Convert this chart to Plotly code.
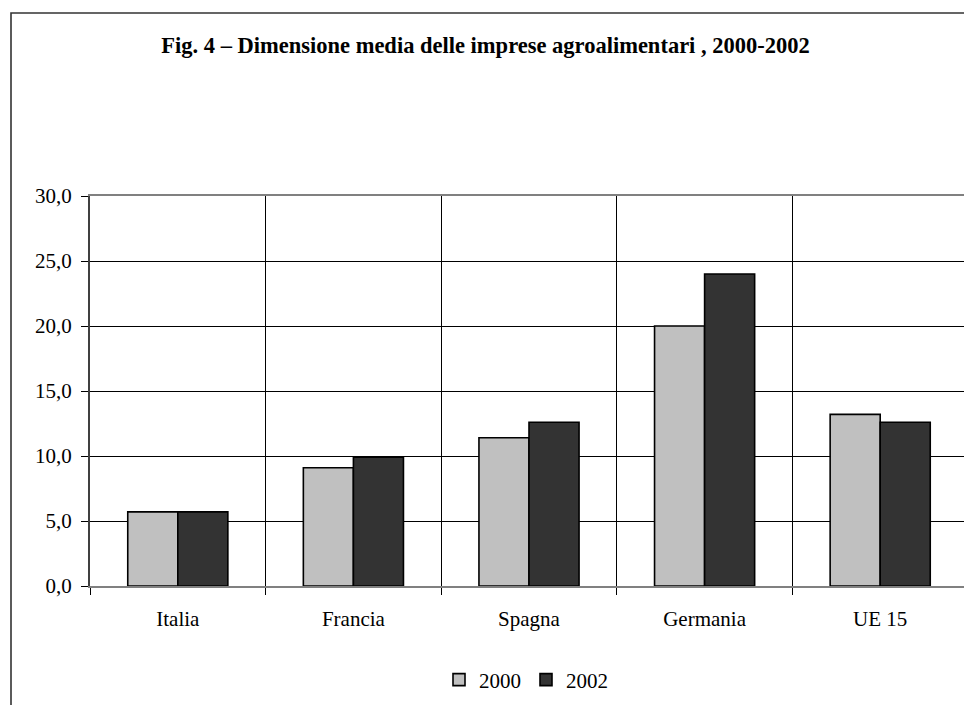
import plotly.graph_objects as go

categories = ["Italia", "Francia", "Spagna", "Germania", "UE 15"]
values_2000 = [5.7, 9.1, 11.4, 20.0, 13.2]
values_2002 = [5.7, 9.9, 12.6, 24.0, 12.6]
series_names = ["2000", "2002"]
title_text = "Fig. 4 – Dimensione media delle imprese agroalimentari , 2000-2002"

# the page body adds an 8px margin, so the figure is drawn 8px smaller
OFF = 8
W, H = 972 - OFF, 705 - OFF
# plot area in page pixels: x 90..968, y 196..586
L, T = 90 - OFF, 196 - OFF
R = W - (968 - OFF)
B = H - (586 - OFF)
pw, ph = W - L - R, H - T - B

def px_x(x):  # page pixel -> paper x
    return (x - OFF - L) / pw

def px_y(y):  # page pixel -> paper y
    return (H - B - (y - OFF)) / ph

serif = "Liberation Serif, Times New Roman, serif"

fig = go.Figure()
fig.add_trace(go.Bar(x=categories, y=values_2000, name=series_names[0],
                     marker=dict(color="#C0C0C0", line=dict(color="#000000", width=1.6))))
fig.add_trace(go.Bar(x=categories, y=values_2002, name=series_names[1],
                     marker=dict(color="#333333", line=dict(color="#000000", width=1.6))))

fig.update_layout(
    width=W, height=H,
    margin=dict(l=L, r=R, t=T, b=B, pad=0, autoexpand=False),
    paper_bgcolor="white", plot_bgcolor="white",
    separators=",.",
    barmode="group", bargap=0.43, bargroupgap=0,
    font=dict(family=serif, size=21, color="#000000"),
    title=dict(text="<b>" + title_text + "</b>", x=(485.5 - OFF) / W, xanchor="center",
               y=1 - (45.5 - OFF) / H, yanchor="middle", yref="container",
               font=dict(family=serif, size=22.5, color="#000000")),
    legend=dict(orientation="h", x=px_x(526), xanchor="center", y=px_y(680), yanchor="middle",
                font=dict(family=serif, size=21), itemwidth=30, tracegroupgap=0,
                bgcolor="rgba(0,0,0,0)"),
    showlegend=True,
    xaxis=dict(type="category", tickson="boundaries", ticks="outside", ticklen=7,
               tickcolor="#000000", tickwidth=1, showgrid=True, gridcolor="#000000",
               gridwidth=1, showline=True, linecolor="#808080", linewidth=2, mirror=True,
               ticklabelstandoff=13, tickfont=dict(family=serif, size=21), automargin=False),
    yaxis=dict(range=[0, 30], dtick=5, tick0=0, tickformat=".1f", ticks="outside",
               ticklen=7, tickcolor="#000000", tickwidth=1, showgrid=True,
               gridcolor="#000000", gridwidth=1, zeroline=False, showline=True,
               linecolor="#404040", linewidth=2, mirror=True,
               ticklabelstandoff=5, tickfont=dict(family=serif, size=21), automargin=False),
)

# outer chart-area border (extends beyond the right/bottom of the picture)
fig.add_shape(type="rect", xref="paper", yref="paper",
              x0=px_x(11), x1=px_x(1000), y0=px_y(730), y1=px_y(13),
              line=dict(color="#333333", width=1.6), fillcolor="rgba(0,0,0,0)", layer="below")

fig.write_html("out.html")
